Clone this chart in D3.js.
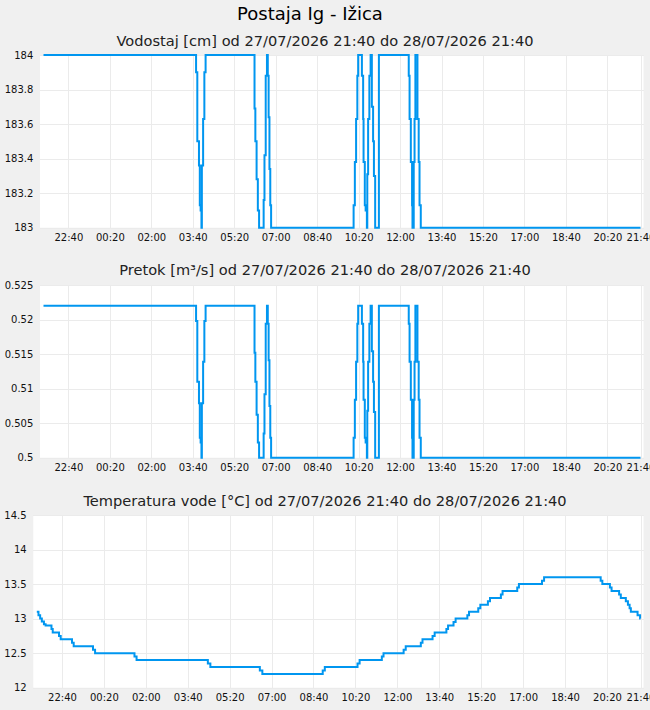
<!DOCTYPE html>
<html>
<head>
<meta charset="utf-8">
<script src="https://cdn.jsdelivr.net/npm/d3@7"></script>
<style>
    body { margin: 0; background: #f0f0f0; font-family: "DejaVu Sans", sans-serif; }
    .grid line { stroke: #ebebeb; stroke-width: 1; shape-rendering: crispEdges; }
    .grid path { display: none; }
    .axis path { display: none; }
    .axis text { font-family: "DejaVu Sans", sans-serif; font-size: 10px; fill: #111; }
</style>
</head>
<body>
<div id="svg_container"></div>
<script>
// Data (times are HH:MM, from 27/07/2026 21:40 to 28/07/2026 21:40)
var times = ["21:40","03:48","03:51","03:55","03:57","03:59","04:01","04:02","04:05","04:08","04:11",
    "06:09","06:11","06:14","06:17","06:20","06:31","06:33","06:36","06:39","06:41","06:43","06:45","06:47","06:49",
    "10:08","10:11","10:14","10:17","10:19","10:28","10:31","10:32","10:35","10:37","10:40","10:41","10:43","10:46","10:49","10:52","10:55","10:57","11:00","11:09",
    "12:21","12:23","12:26","12:29","12:30","12:33","12:35","12:37","12:42","12:45","12:47","12:50","21:40"];

var vodostaj = [184,183.9,183.5,183.36,183.13,183.1,183,183.36,183.63,183.9,184,
    183.69,183.5,183.28,183.1,183,183.16,183.42,183.88,184,183.88,183.64,183.34,183.13,183,
    183.13,183.38,183.63,183.88,184,183.88,183.63,183.38,183.13,183.1,183,183.31,183.63,183.88,184,183.7,183.5,183.3,183,184,
    183.88,183.63,183.38,183.13,183,183.38,183.63,184,183.63,183.38,183.13,183,183];

var pretok = [0.522,0.5198,0.511,0.5079,0.5029,0.5022,0.5,0.5079,0.5139,0.5198,0.522,
    0.5152,0.511,0.5062,0.5022,0.5,0.5035,0.5092,0.5194,0.522,0.5194,0.5141,0.5075,0.5029,0.5,
    0.5029,0.5084,0.5139,0.5194,0.522,0.5194,0.5139,0.5084,0.5029,0.5022,0.5,0.5068,0.5139,0.5194,0.522,0.5154,0.511,0.5066,0.5,0.522,
    0.5194,0.5139,0.5084,0.5029,0.5,0.5084,0.5139,0.522,0.5139,0.5084,0.5029,0.5,0.5];

var tempTimes = ["21:40","21:44","21:48","21:52","21:57","22:01","22:15","22:18","22:33","22:37",
    "23:04","23:08","23:54","23:59","01:33","01:38","04:28","04:34","06:32","06:38",
    "09:02","09:07","10:25","10:30","11:23","11:27","12:15","12:20","12:56","13:00",
    "13:24","13:29","13:57","14:01","14:14","14:19","14:47","14:51","15:13","15:18",
    "15:36","15:41","16:07","16:11","16:46","16:50","17:45","17:50","20:05","20:09",
    "20:27","20:31","20:49","20:53","21:05","21:10","21:14","21:17","21:33","21:39","21:40"];

var temperatura = [13.1,13.05,13.0,12.96,12.92,12.9,12.85,12.8,12.75,12.7,
    12.65,12.6,12.55,12.5,12.45,12.4,12.35,12.3,12.25,12.2,
    12.25,12.3,12.35,12.4,12.45,12.5,12.55,12.6,12.65,12.7,
    12.75,12.8,12.85,12.9,12.95,13.0,13.05,13.1,13.15,13.2,
    13.25,13.3,13.35,13.4,13.45,13.5,13.55,13.6,13.55,13.5,
    13.45,13.4,13.35,13.3,13.25,13.2,13.15,13.1,13.05,13.0,13.0];

var tickLabels = ["22:40","00:20","02:00","03:40","05:20","07:00","08:40","10:20",
    "12:00","13:40","15:20","17:00","18:40","20:20","21:40"];

var title = "Postaja Ig - Ižica";
var subtitles = [
    "Vodostaj [cm] od 27/07/2026 21:40 do 28/07/2026 21:40",
    "Pretok [m³/s] od 27/07/2026 21:40 do 28/07/2026 21:40",
    "Temperatura vode [°C] od 27/07/2026 21:40 do 28/07/2026 21:40"
];

// turn HH:MM list into dates, moving to next day when the clock goes back
function parse_seq(list) {
    var day = 27, prev = -1;
    return list.map(function(hm) {
        var p = hm.split(":");
        var mins = +p[0] * 60 + +p[1];
        if (mins < prev) day++;
        prev = mins;
        return new Date(2026, 6, day, +p[0], +p[1]);
    });
}

var start = new Date(2026, 6, 27, 21, 40);
var end = new Date(2026, 6, 28, 21, 40);
var tickDates = parse_seq(tickLabels);

var width = 650, height = 710;
var svg = d3.select("#svg_container")
    .append("svg")
    .attr("width", width)
    .attr("height", height);

svg.append("text")
    .attr("x", 310)
    .attr("y", 20)
    .attr("text-anchor", "middle")
    .style("font-size", "18px")
    .style("fill", "#000")
    .text(title);

function draw_chart(opts) {
    var left = opts.left, right = 643.5, top = opts.top, bottom = opts.bottom;
    var g = svg.append("g");

    g.append("text")
        .attr("x", 325)
        .attr("y", opts.titleY)
        .attr("text-anchor", "middle")
        .style("font-size", "14.6px")
        .style("fill", "#222")
        .text(opts.subtitle);

    g.append("rect")
        .attr("x", left).attr("y", top)
        .attr("width", right - left).attr("height", bottom - top)
        .attr("fill", "#fff");

    var x = d3.scaleTime().domain([start, end]).range([left + 3.5, right - 3]);
    var y = d3.scaleLinear().domain(opts.yDomain).range([bottom, top]);

    // grid
    g.append("g").attr("class", "grid")
        .attr("transform", "translate(0," + bottom + ")")
        .call(d3.axisBottom(x).tickValues(tickDates).tickSize(-(bottom - top)).tickFormat(""));
    g.append("g").attr("class", "grid")
        .attr("transform", "translate(" + left + ",0)")
        .call(d3.axisLeft(y).ticks(5).tickSize(-(right - left)).tickFormat(""));

    // axes
    g.append("g").attr("class", "axis")
        .attr("transform", "translate(0," + bottom + ")")
        .call(d3.axisBottom(x).tickValues(tickDates).tickSize(0).tickPadding(6)
            .tickFormat(d3.timeFormat("%H:%M")));
    g.append("g").attr("class", "axis")
        .attr("transform", "translate(" + left + ",0)")
        .call(d3.axisLeft(y).ticks(5).tickSize(0).tickPadding(6.7).tickFormat(d3.format("~g")));

    var data = opts.dates.map(function(d, i) { return {t: d, v: opts.values[i]}; });
    var line = d3.line()
        .x(function(d) { return x(d.t); })
        .y(function(d) { return y(d.v); })
        .curve(d3.curveStepAfter);

    g.append("path")
        .datum(data)
        .attr("fill", "none")
        .attr("stroke", "#0096f0")
        .attr("stroke-width", 2)
        .attr("d", line);
}

var levelDates = parse_seq(times);

draw_chart({left: 40, top: 55, bottom: 227.7, titleY: 46, subtitle: subtitles[0],
    yDomain: [183, 184], dates: levelDates, values: vodostaj});
draw_chart({left: 40, top: 285, bottom: 457.7, titleY: 275, subtitle: subtitles[1],
    yDomain: [0.5, 0.525], dates: levelDates, values: pretok});
draw_chart({left: 33.3, top: 515, bottom: 687.7, titleY: 506, subtitle: subtitles[2],
    yDomain: [12, 14.5], dates: parse_seq(tempTimes), values: temperatura});
</script>
</body>
</html>
